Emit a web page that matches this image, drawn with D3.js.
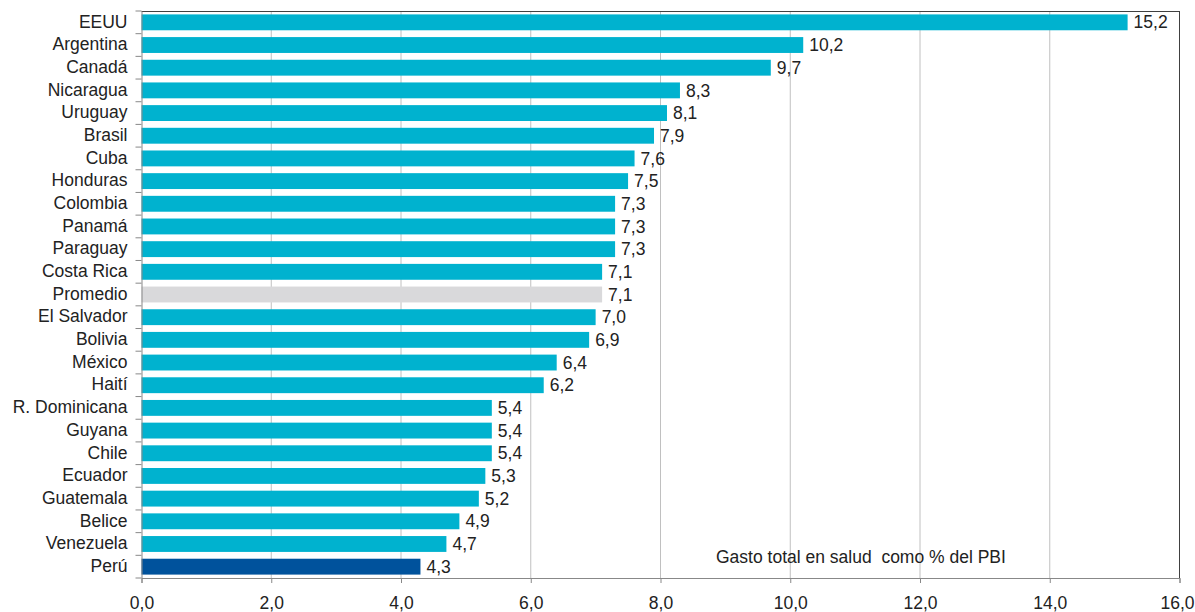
<!DOCTYPE html>
<html><head><meta charset="utf-8">
<script src="https://cdn.jsdelivr.net/npm/d3@7"></script>
<style>body{margin:0;background:#fff}svg{display:block}text{font-family:"Liberation Sans",Arial,sans-serif}</style>
</head><body><svg id="c" width="1195" height="612"></svg>
<script>
const categories = ["EEUU","Argentina","Canadá","Nicaragua","Uruguay","Brasil","Cuba","Honduras","Colombia","Panamá","Paraguay","Costa Rica","Promedio","El Salvador","Bolivia","México","Haití","R. Dominicana","Guyana","Chile","Ecuador","Guatemala","Belice","Venezuela","Perú"];
const values = [15.2,10.2,9.7,8.3,8.1,7.9,7.6,7.5,7.3,7.3,7.3,7.1,7.1,7.0,6.9,6.4,6.2,5.4,5.4,5.4,5.3,5.2,4.9,4.7,4.3];
const xTicks = [0,2,4,6,8,10,12,14,16];
const annotation = "Gasto total en salud  como % del PBI";

const FS = 17.5;
const svg = d3.select("#c");
const L=141.5, R=1179.5, T=11, B=578;
const x = d3.scaleLinear().domain([0,16]).range([L,R]);
const y = d3.scaleBand().domain(categories).range([T,B]).paddingInner(0.3).paddingOuter(0.15);
const fmt = v => d3.format(".1f")(v).replace(".",",");
const color = c => c==="Perú" ? "#00529c" : c==="Promedio" ? "#d9d9db" : "#00b2cf";

// grid
svg.append("g").selectAll("line").data(xTicks.slice(1,-1)).join("line")
  .attr("x1",d=>x(d)).attr("x2",d=>x(d)).attr("y1",T).attr("y2",B)
  .attr("stroke","#c0c0c0").attr("stroke-width",1);

// frame top/right
svg.append("line").attr("x1",L).attr("x2",R).attr("y1",T+0.5).attr("y2",T+0.5).attr("stroke","#404040");
svg.append("line").attr("x1",R).attr("x2",R).attr("y1",T).attr("y2",B).attr("stroke","#404040");

// bars
svg.append("g").selectAll("rect").data(categories).join("rect")
  .attr("x",x(0)).attr("y",c=>y(c))
  .attr("width",(c,i)=>x(values[i])-x(0)).attr("height",y.bandwidth())
  .attr("fill",c=>color(c));

// value labels
svg.append("g").selectAll("text").data(categories).join("text")
  .attr("x",(c,i)=>x(values[i])+6).attr("y",c=>y(c)+y.bandwidth()/2)
  .attr("dy","0.35em").attr("font-size",FS).attr("fill","#222")
  .text((c,i)=>fmt(values[i]));

// y axis
const yAxis = d3.axisLeft(y).tickSize(0).tickPadding(14);
const gy = svg.append("g").attr("transform",`translate(${L},0)`).call(yAxis);
gy.select(".domain").attr("stroke","#888");
gy.selectAll("text").attr("font-size",FS).attr("fill","#222").attr("dy","0.3em");
// ticks between bands
const bounds = d3.range(categories.length+1).map(i=>T+i*(B-T)/categories.length);
svg.append("g").selectAll("line").data(bounds).join("line")
  .attr("x1",L-6).attr("x2",L).attr("y1",d=>d).attr("y2",d=>d).attr("stroke","#888");

// x axis
const xAxis = d3.axisBottom(x).tickValues(xTicks).tickSize(5).tickPadding(14).tickFormat(fmt);
const gx = svg.append("g").attr("transform",`translate(0,${B})`).call(xAxis);
gx.select(".domain").attr("stroke","#888");
gx.selectAll(".tick line").attr("stroke","#888");
gx.selectAll("text").attr("font-size",FS).attr("fill","#222");
gx.selectAll(".tick").filter(d=>d===16).select("text").attr("text-anchor","end").attr("x",1194-R);

// annotation
svg.append("text").attr("x",716).attr("y",557).attr("dy","0.35em").attr("font-size",FS)
  .attr("fill","#222").style("white-space","pre").text(annotation);
</script></body></html>
